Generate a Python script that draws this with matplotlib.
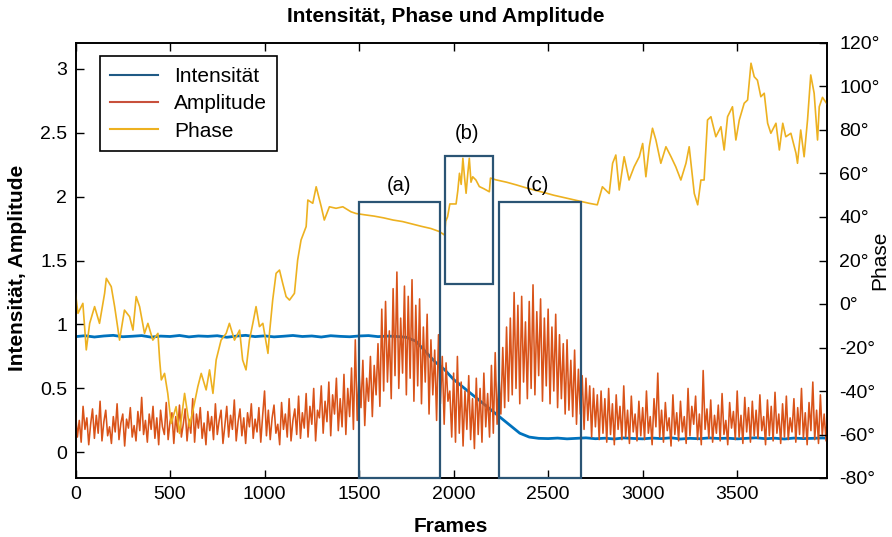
import numpy as np
import matplotlib
matplotlib.use("Agg")
import matplotlib.pyplot as plt
from matplotlib.patches import Rectangle
from matplotlib.lines import Line2D

plt.rcParams['font.family'] = ['Liberation Sans', 'DejaVu Sans']

# ---------------- data ----------------
amp_step = 10
amplitude = [
    0.31,0.12,0.25,0.08,0.36,0.18,0.27,0.06,0.22,0.34,0.11,0.29,0.15,0.40,0.09,0.24,0.33,0.13,0.20,0.07,
    0.28,0.16,0.38,0.10,0.23,0.30,0.05,0.26,0.19,0.35,0.12,0.21,0.09,0.32,0.17,0.43,0.14,0.25,0.08,0.30,
    0.18,0.36,0.11,0.27,0.06,0.33,0.20,0.14,0.39,0.10,0.24,0.31,0.07,0.28,0.16,0.37,0.12,0.22,0.34,0.09,
    0.26,0.15,0.42,0.08,0.30,0.19,0.35,0.11,0.23,0.06,0.32,0.17,0.28,0.10,0.38,0.14,0.25,0.33,0.07,0.21,
    0.36,0.12,0.29,0.18,0.41,0.09,0.24,0.34,0.13,0.27,0.07,0.31,0.20,0.38,0.11,0.26,0.16,0.35,0.08,0.29,
    0.48,0.13,0.33,0.10,0.27,0.37,0.15,0.22,0.06,0.39,0.18,0.30,0.12,0.42,0.09,0.25,0.34,0.14,0.44,0.11,
    0.31,0.19,0.46,0.12,0.36,0.22,0.50,0.09,0.33,0.27,0.52,0.15,0.40,0.24,0.55,0.13,0.45,0.30,0.58,0.17,
    0.42,0.20,0.61,0.14,0.50,0.28,0.66,0.18,0.88,0.25,0.62,0.35,0.72,0.21,0.58,0.40,0.75,0.28,0.68,0.45,
    0.85,0.36,1.12,0.48,1.18,0.55,0.95,0.42,1.28,0.60,1.41,0.50,1.05,0.62,1.30,0.45,1.22,0.58,1.35,0.40,
    1.15,0.52,1.20,0.38,0.98,0.55,1.08,0.30,0.88,0.45,0.80,0.25,0.92,0.38,0.75,0.22,0.70,0.40,0.48,0.12,
    0.62,0.08,0.75,0.15,0.55,0.05,0.48,0.18,0.60,0.10,0.42,0.03,0.58,0.14,0.50,0.08,0.62,0.20,0.46,0.12,
    0.68,0.15,0.78,0.22,0.60,0.30,0.82,0.35,0.98,0.40,1.05,0.45,1.25,0.50,1.15,0.38,1.22,0.55,1.02,0.42,
    1.18,0.50,1.31,0.45,1.10,0.60,1.20,0.40,1.05,0.52,1.12,0.38,0.98,0.48,1.08,0.35,0.92,0.42,0.85,0.30,
    0.88,0.33,0.72,0.28,0.80,0.22,0.65,0.30,0.60,0.18,0.58,0.25,0.52,0.12,0.50,0.20,0.45,0.10,0.48,0.15,
    0.42,0.08,0.50,0.14,0.38,0.06,0.45,0.18,0.36,0.10,0.52,0.12,0.33,0.07,0.44,0.16,0.30,0.09,0.40,0.13,
    0.35,0.10,0.48,0.15,0.28,0.06,0.42,0.20,0.62,0.12,0.33,0.08,0.39,0.17,0.27,0.05,0.45,0.14,0.31,0.09,
    0.40,0.16,0.28,0.07,0.50,0.13,0.36,0.22,0.44,0.10,0.30,0.06,0.64,0.18,0.34,0.11,0.41,0.08,0.29,0.15,
    0.37,0.09,0.46,0.14,0.25,0.06,0.39,0.19,0.32,0.10,0.48,0.12,0.29,0.07,0.43,0.16,0.35,0.08,0.40,0.13,
    0.33,0.11,0.45,0.17,0.28,0.06,0.41,0.13,0.36,0.09,0.47,0.15,0.30,0.07,0.38,0.12,0.44,0.10,0.27,0.16,
    0.42,0.08,0.35,0.14,0.50,0.11,0.31,0.06,0.39,0.17,0.55,0.10,0.33,0.07,0.45,0.13,0.30,0.09,0.40,0.12,
]

int_step = 50
intensity = [
    0.905,0.912,0.902,0.910,0.915,0.904,0.908,0.913,0.901,0.909,
    0.906,0.914,0.903,0.910,0.907,0.912,0.900,0.909,0.915,0.905,
    0.911,0.903,0.908,0.914,0.906,0.910,0.902,0.912,0.907,0.904,
    0.910,0.913,0.905,0.909,0.906,0.900,
    0.87,0.79,0.71,0.65,0.57,0.51,0.45,0.39,0.33,0.27,0.21,0.15,0.12,0.11,0.108,
    0.112,0.106,0.110,0.114,0.107,0.111,0.105,0.113,0.109,0.106,
    0.112,0.108,0.114,0.105,0.110,0.107,0.113,0.109,0.111,0.106,
    0.110,0.114,0.107,0.111,0.105,0.112,0.108,0.110,0.113,0.109,
]

phase_frames = [
    0, 13, 39, 57, 75, 101, 127, 154, 163, 189, 207, 233, 259, 286, 304, 321, 339, 365, 383, 409,
    436, 445, 454, 471, 488, 506, 532, 550, 577, 603, 629, 647, 665, 691, 709, 727, 744, 770, 797, 814,
    841, 868, 884, 902, 920, 938, 955, 973, 991, 1018, 1026, 1043, 1061, 1079, 1096, 1114, 1132, 1158, 1175, 1193,
    1220, 1229, 1255, 1273, 1300, 1316, 1343, 1378, 1414, 1457, 1484,
    1530, 1580, 1630, 1680, 1730, 1780, 1830, 1880, 1925, 1952, 1958, 1968, 1980, 2013, 2022, 2031, 2040, 2049, 2058,
    2066, 2075, 2083, 2092, 2101, 2118, 2136, 2160, 2189, 2195, 2223, 2280, 2330, 2380, 2430, 2480, 2530, 2580, 2630, 2682,
    2717, 2760, 2787, 2823, 2841, 2858, 2876, 2902, 2928, 2955, 2982, 3000, 3017, 3035, 3052, 3070, 3096, 3123, 3150, 3175,
    3202, 3229, 3246, 3273, 3291, 3308, 3325, 3343, 3361, 3387, 3414, 3431, 3449, 3475, 3493, 3511, 3537, 3555, 3573, 3590,
    3607, 3625, 3643, 3661, 3678, 3705, 3723, 3741, 3757, 3784, 3811, 3819, 3836, 3854, 3872, 3889, 3907, 3925, 3934, 3951, 3975,
]
phase_deg = [
    4.9, -4.3, 0.3, -21.1, -8.9, -1.2, -8.9, 4.9, 11.8, 8.0, -1.2, -16.6, -2.8, -5.8, -12.0, 3.4, -1.2, -13.5, -8.9, -16.6,
    -13.5, -25.7, -34.9, -31.9, -41.1, -54.9, -47.2, -59.5, -41.1, -56.4, -45.7, -38.0, -31.9, -39.5, -30.3, -41.1, -25.7, -16.6, -13.5, -8.9,
    -16.6, -12.0, -25.7, -30.3, -16.6, -8.9, -1.2, -10.4, -8.9, -22.7, -13.5, 1.8, 14.1, 15.6, 9.5, 3.4, 1.8, 4.9, 20.2, 29.4,
    35.6, 47.8, 46.3, 53.9, 44.7, 38.6, 44.7, 44.0, 44.7, 42.4, 41.6,
    41.0, 40.4, 39.6, 38.6, 37.9, 36.8, 35.7, 34.7, 33.3, 31.7, 38.0, 40.1, 46.0, 46.0, 52.0, 60.1, 55.0, 67.0, 58.0,
    50.9, 60.0, 67.0, 56.0, 58.5, 57.0, 54.0, 53.0, 51.6, 57.9, 57.1, 56.0, 54.8, 53.5, 52.3, 51.2, 50.0, 49.0, 48.0, 47.0,
    46.3, 45.6, 53.9, 50.8, 64.7, 68.5, 52.4, 67.7, 57.0, 63.1, 67.7, 73.8, 58.5, 72.3, 80.8, 75.4, 64.7, 72.3, 67.7, 63.1,
    57.0, 64.7, 72.3, 50.8, 45.6, 57.0, 57.0, 84.6, 86.1, 76.9, 81.5, 70.8, 86.1, 90.7, 75.4, 84.6, 92.3, 93.8, 110.7, 104.5,
    102.9, 95.3, 96.9, 83.1, 78.5, 83.1, 70.8, 83.1, 76.9, 78.5, 69.3, 64.7, 80.0, 67.7, 84.6, 105.3, 96.9, 75.4, 90.7, 95.0, 92.0,
]

box_labels = ['(a)', '(b)', '(c)']
box_x0 = [1502, 1956, 2242]
box_x1 = [1930, 2210, 2675]
box_y0 = [-0.2, 1.317, -0.2]
box_y1 = [1.956, 2.315, 1.956]
label_x = [1713, 2072, 2442]
label_y = [2.09, 2.49, 2.09]

x_ticks = [0, 500, 1000, 1500, 2000, 2500, 3000, 3500]
left_ticks = [0, 0.5, 1, 1.5, 2, 2.5, 3]
left_tick_labels = ['0', '0.5', '1', '1.5', '2', '2.5', '3']
right_ticks = [-80, -60, -40, -20, 0, 20, 40, 60, 80, 100, 120]

# ---------------- plot ----------------
c_int = '#0072BD'
c_amp = '#D95319'
c_pha = '#EDB120'
c_box = '#2B5474'

fig = plt.figure(figsize=(8.92, 5.37), dpi=100)
ax = fig.add_axes([75.5 / 892, 1 - 478 / 537, 751.5 / 892, 435 / 537])
ax2 = ax.twinx()

amp_x = np.arange(len(amplitude)) * amp_step
int_x = np.arange(len(intensity)) * int_step

ax.plot(int_x, intensity, color=c_int, lw=2.0, zorder=2)
ax.plot(amp_x, amplitude, color=c_amp, lw=1.15, zorder=3)
ax2.plot(phase_frames, phase_deg, color=c_pha, lw=1.2, zorder=2)

for x0, x1, y0, y1 in zip(box_x0, box_x1, box_y0, box_y1):
    r = Rectangle((x0, y0), x1 - x0, y1 - y0, fill=False, edgecolor=c_box,
                  lw=1.6, transform=ax.transData, zorder=5, clip_on=False)
    ax2.add_patch(r)
for lab, lx, ly in zip(box_labels, label_x, label_y):
    ax2.text(lx, ly, lab, transform=ax.transData, ha='center', va='center',
             fontsize=14.5, zorder=6)

ax.set_xlim(0, 3975)
ax.set_ylim(-0.2, 3.2)
ax2.set_ylim(-80, 120)

ax.set_xticks(x_ticks)
ax.set_xticklabels([str(t) for t in x_ticks])
ax.set_yticks(left_ticks)
ax.set_yticklabels(left_tick_labels)
ax2.set_yticks(right_ticks)
ax2.set_yticklabels([f"{t}°" for t in right_ticks])

ax.tick_params(axis='both', direction='in', length=6, width=1, labelsize=14,
               top=True, right=False, pad=6)
ax2.tick_params(axis='y', direction='in', length=6, width=1, labelsize=14, pad=9)
for a in (ax, ax2):
    for s in a.spines.values():
        s.set_linewidth(1.2)

ax.set_xlabel('Frames', fontsize=15, fontweight='bold', labelpad=10)
fig.text(18 / 892, 1 - 268 / 537, 'Intensität, Amplitude', rotation=90,
         ha='center', va='center', fontsize=15, fontweight='bold')
fig.text(880 / 892, 1 - 260 / 537, 'Phase', rotation=90,
         ha='center', va='center', fontsize=15)
fig.text(0.5, 1 - 17 / 537, 'Intensität, Phase und Amplitude', ha='center', va='center',
         fontsize=15, fontweight='bold')

handles = [Line2D([], [], color='#1F5A85', lw=1.5),
           Line2D([], [], color='#C8503C', lw=1.5),
           Line2D([], [], color=c_pha, lw=1.5)]
leg = ax2.legend(handles, ['Intensität', 'Amplitude', 'Phase'], loc='upper left',
                 bbox_to_anchor=(24.5 / 751.5, (478 - 56.5) / 435), borderaxespad=0,
                 fontsize=15, frameon=True, fancybox=False, edgecolor='black',
                 framealpha=1, handlelength=2.3, handletextpad=0.75,
                 labelspacing=0.4, borderpad=0.5)
leg.get_frame().set_linewidth(1.2)
leg.set_zorder(10)

fig.savefig('out.png', dpi=100)
